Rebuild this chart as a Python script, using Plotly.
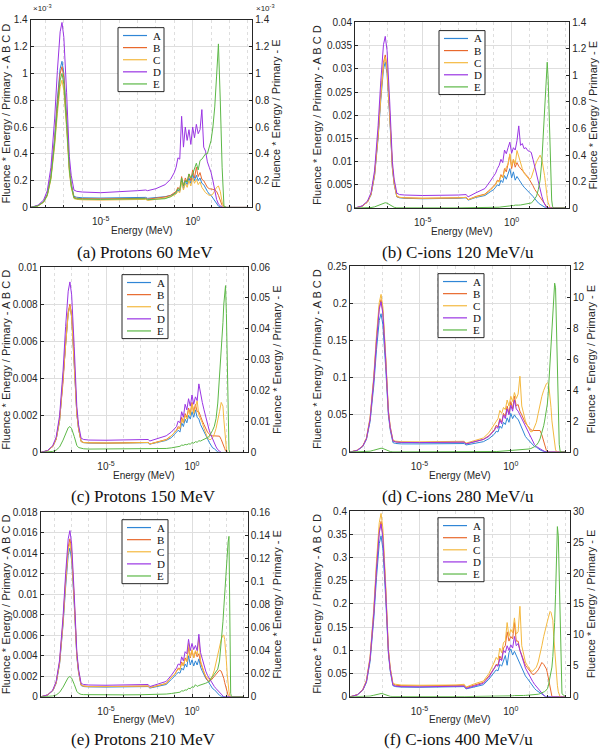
import plotly.graph_objects as go

# ---------------- data ----------------
# energy grid, log10(E / MeV)
LOG_E = [
    -8.8, -8.4, -8.1, -7.9, -7.7, -7.5, -7.35, -7.2, -7.1, -7.0, -6.85, -6.7, -6.6, -6.45, -6.3,
    -6.0, -5.0, -4.0, -3.0, -2.55, -2.45, -2.0, -1.5,
    -1.2, -1.0, -0.9, -0.8, -0.7, -0.6, -0.5, -0.4, -0.3, -0.2, -0.1, 0.0, 0.1, 0.2, 0.3, 0.4, 0.5, 0.6, 0.7, 0.8, 0.9,
    1.0, 1.1, 1.2, 1.3, 1.4, 1.5, 1.6, 1.7, 1.8, 1.85, 1.9, 1.95, 2.0, 2.05, 2.1, 2.15, 2.2, 2.25, 2.3, 2.35,
    2.4, 2.45, 2.5, 2.55, 2.6, 2.65, 2.7, 2.8, 3.0,
]
ENERGY_MEV = [10 ** p for p in LOG_E]

SERIES = ["A", "B", "C", "D", "E"]
COLORS = ["#2F86D6", "#E8692D", "#F4B940", "#9A35E3", "#5CB847"]

# (a) Protons 60 MeV  -- values in units of 1e-3
a_A = [0, 0.013, 0.044, 0.098, 0.24, 0.52, 0.81, 1.035, 1.09, 1.0, 0.68, 0.30, 0.18, 0.083, 0.076,
       0.072, 0.07, 0.07, 0.072, 0.075, 0.068, 0.072, 0.08,
       0.09, 0.10, 0.11, 0.13, 0.12, 0.20, 0.14, 0.20, 0.17, 0.22, 0.18, 0.25, 0.20, 0.24, 0.20, 0.22, 0.18, 0.17, 0.14, 0.12, 0.10,
       0.09, 0.07, 0.05, 0.025, 0.01, 0.003, 0, 0, 0, 0, 0, 0, 0, 0, 0, 0, 0, 0, 0, 0, 0, 0, 0, 0, 0, 0, 0, 0, 0]
a_B = [0, 0.013, 0.042, 0.095, 0.23, 0.50, 0.78, 1.0, 1.05, 0.97, 0.65, 0.29, 0.17, 0.076, 0.069,
       0.066, 0.064, 0.064, 0.066, 0.068, 0.062, 0.068, 0.078,
       0.09, 0.11, 0.12, 0.15, 0.13, 0.23, 0.16, 0.22, 0.19, 0.25, 0.20, 0.28, 0.22, 0.30, 0.23, 0.26, 0.21, 0.20, 0.17, 0.15, 0.14,
       0.14, 0.135, 0.13, 0.12, 0.09, 0.05, 0.015, 0, 0, 0, 0, 0, 0, 0, 0, 0, 0, 0, 0, 0, 0, 0, 0, 0, 0, 0, 0, 0, 0]
a_C = [0, 0.011, 0.038, 0.086, 0.21, 0.46, 0.70, 0.90, 0.95, 0.87, 0.59, 0.26, 0.15, 0.066, 0.06,
       0.057, 0.055, 0.055, 0.058, 0.06, 0.052, 0.06, 0.07,
       0.08, 0.09, 0.10, 0.12, 0.11, 0.19, 0.13, 0.18, 0.15, 0.20, 0.16, 0.22, 0.18, 0.21, 0.17, 0.19, 0.15, 0.13, 0.11, 0.10, 0.09,
       0.09, 0.10, 0.125, 0.15, 0.16, 0.12, 0.04, 0.005, 0, 0, 0, 0, 0, 0, 0, 0, 0, 0, 0, 0, 0, 0, 0, 0, 0, 0, 0, 0, 0]
a_D = [0, 0.017, 0.055, 0.124, 0.30, 0.66, 1.02, 1.31, 1.38, 1.27, 0.86, 0.38, 0.24, 0.13, 0.12,
       0.115, 0.11, 0.115, 0.125, 0.13, 0.125, 0.14, 0.17,
       0.21, 0.26, 0.30, 0.37, 0.36, 0.68, 0.45, 0.60, 0.50, 0.58, 0.47, 0.60, 0.52, 0.62, 0.55, 0.58, 0.73, 0.45, 0.42, 0.34, 0.30,
       0.26, 0.20, 0.12, 0.06, 0.025, 0.01, 0, 0, 0, 0, 0, 0, 0, 0, 0, 0, 0, 0, 0, 0, 0, 0, 0, 0, 0, 0, 0, 0, 0]
a_E = [0, 0.012, 0.04, 0.09, 0.22, 0.48, 0.74, 0.95, 1.0, 0.92, 0.62, 0.28, 0.16, 0.071, 0.065,
       0.062, 0.06, 0.06, 0.062, 0.065, 0.058, 0.062, 0.065,
       0.08, 0.10, 0.11, 0.14, 0.13, 0.22, 0.16, 0.20, 0.19, 0.25, 0.22, 0.25, 0.30, 0.33, 0.28, 0.35, 0.36, 0.38, 0.40, 0.40, 0.45,
       0.50, 0.60, 0.75, 0.98, 1.22, 0.80, 0.30, 0.01, 0, 0, 0, 0, 0, 0, 0, 0, 0, 0, 0, 0, 0, 0, 0, 0, 0, 0, 0, 0, 0]

# (b) C-ions 120 MeV/u
b_A = [0, 0.0004, 0.0013, 0.0028, 0.0069, 0.0151, 0.0233, 0.0299, 0.0315, 0.029, 0.0195, 0.0085, 0.0051, 0.0024, 0.0022,
       0.0021, 0.002, 0.002, 0.0021, 0.0022, 0.0017, 0.0023, 0.0027,
       0.0035, 0.004, 0.0045, 0.005, 0.0048, 0.006, 0.0055, 0.007, 0.0062, 0.0075, 0.0085, 0.0065, 0.0078, 0.006, 0.0068, 0.0062, 0.0055, 0.005, 0.0045, 0.004, 0.0037,
       0.0033, 0.003, 0.0025, 0.002, 0.0015, 0.0011, 0.0008, 0.0005, 0.0003, 0.0002, 0.0001, 0, 0, 0, 0, 0, 0, 0, 0, 0, 0, 0, 0, 0, 0, 0, 0, 0, 0]
b_B = [0, 0.0004, 0.0013, 0.003, 0.0073, 0.0158, 0.0244, 0.0314, 0.033, 0.0304, 0.0205, 0.0089, 0.0054, 0.0025, 0.0023,
       0.0022, 0.0021, 0.0021, 0.0022, 0.0023, 0.0018, 0.0025, 0.003,
       0.004, 0.0047, 0.0052, 0.006, 0.0058, 0.0072, 0.0066, 0.0085, 0.0078, 0.0095, 0.0115, 0.0085, 0.0105, 0.0088, 0.0098, 0.009, 0.0085, 0.008, 0.0075, 0.0072, 0.0068,
       0.0062, 0.0055, 0.0048, 0.004, 0.0034, 0.0029, 0.0025, 0.0018, 0.0011, 0.0008, 0.0005, 0.0003, 0.0001, 0, 0, 0, 0, 0, 0, 0, 0, 0, 0, 0, 0, 0, 0, 0, 0]
b_C = [0, 0.0004, 0.0013, 0.0029, 0.0072, 0.0156, 0.024, 0.0309, 0.0325, 0.0299, 0.0202, 0.0088, 0.0053, 0.0025, 0.0023,
       0.0022, 0.0021, 0.0021, 0.0022, 0.0023, 0.0018, 0.0024, 0.0029,
       0.0038, 0.0047, 0.005, 0.0058, 0.0056, 0.007, 0.0065, 0.008, 0.0089, 0.0095, 0.0117, 0.009, 0.0105, 0.0095, 0.0124, 0.011, 0.0096, 0.0085, 0.0075, 0.0071, 0.0065,
       0.0061, 0.0065, 0.0075, 0.0089, 0.01, 0.0109, 0.0114, 0.0105, 0.0085, 0.007, 0.0055, 0.0035, 0.0022, 0.0012, 0.0006, 0.0002, 0, 0, 0, 0, 0, 0, 0, 0, 0, 0, 0, 0, 0]
b_D = [0, 0.00045, 0.0015, 0.0033, 0.0081, 0.0178, 0.0274, 0.0352, 0.037, 0.034, 0.0229, 0.01, 0.0062, 0.0032, 0.0029,
       0.0028, 0.0027, 0.0027, 0.0028, 0.0029, 0.0024, 0.0033, 0.0042,
       0.0058, 0.0068, 0.0075, 0.0085, 0.0092, 0.0105, 0.0098, 0.0125, 0.0117, 0.013, 0.0142, 0.0118, 0.013, 0.0125, 0.0145, 0.0177, 0.0135, 0.0139, 0.0128, 0.013, 0.0124,
       0.0122, 0.012, 0.0105, 0.0089, 0.007, 0.0054, 0.0038, 0.0025, 0.0013, 0.0008, 0.0004, 0.0002, 0.0001, 0, 0, 0, 0, 0, 0, 0, 0, 0, 0, 0, 0, 0, 0, 0, 0]
b_E = [0, 0.0005, 0.0016, 0.0036, 0.0088, 0.0192, 0.0296, 0.038, 0.04, 0.0368, 0.0248, 0.0104, 0.0055, 0.0015, 0.0011,
       0.001, 0.001, 0.001, 0.001, 0.001, 0.001, 0.0012, 0.0015,
       0.002, 0.003, 0.004, 0.005, 0.006, 0.008, 0.009, 0.011, 0.012, 0.014, 0.016, 0.02, 0.018, 0.022, 0.02, 0.022, 0.023, 0.025, 0.026, 0.027, 0.03,
       0.033, 0.038, 0.05, 0.068, 0.09, 0.14, 0.21, 0.36, 0.6, 0.75, 0.88, 1.0, 1.1, 0.98, 0.7, 0.43, 0.2, 0.06, 0.01, 0, 0, 0, 0, 0, 0, 0, 0, 0, 0]

# (c) Protons 150 MeV
c_A = [0, 0.0001, 0.00032, 0.00071, 0.0017, 0.0038, 0.0058, 0.0075, 0.0079, 0.0073, 0.0049, 0.0021, 0.0013, 0.00059, 0.00053,
       0.00051, 0.0005, 0.0005, 0.00051, 0.00053, 0.00045, 0.00055, 0.00065,
       0.0008, 0.001, 0.0011, 0.0012, 0.0011, 0.0016, 0.0014, 0.0018, 0.0016, 0.002, 0.0018, 0.0022, 0.0019, 0.0023, 0.0019, 0.0018, 0.0015, 0.0013, 0.0011, 0.0009, 0.0007,
       0.00055, 0.0004, 0.00025, 0.0002, 0.0001, 0.00003, 0, 0, 0, 0, 0, 0, 0, 0, 0, 0, 0, 0, 0, 0, 0, 0, 0, 0, 0, 0, 0, 0, 0]
c_B = [0, 0.0001, 0.00032, 0.00072, 0.0018, 0.0038, 0.0059, 0.0076, 0.008, 0.0074, 0.005, 0.0021, 0.0013, 0.0006, 0.00054,
       0.00052, 0.00051, 0.00051, 0.00052, 0.00054, 0.00046, 0.00057, 0.0007,
       0.0009, 0.0011, 0.0012, 0.0014, 0.0013, 0.0019, 0.0016, 0.0021, 0.0019, 0.0024, 0.0021, 0.0027, 0.0022, 0.0026, 0.0022, 0.0022, 0.0019, 0.0017, 0.0015, 0.0013, 0.0011,
       0.001, 0.0009, 0.0009, 0.0009, 0.0009, 0.0009, 0.00088, 0.0007, 0.0005, 0.00035, 0.00022, 0.0001, 0.00003, 0, 0, 0, 0, 0, 0, 0, 0, 0, 0, 0, 0, 0, 0, 0, 0]
c_C = [0, 0.0001, 0.00032, 0.00071, 0.0017, 0.0038, 0.0058, 0.0075, 0.0079, 0.0073, 0.0049, 0.0021, 0.0013, 0.00059, 0.00053,
       0.00052, 0.00051, 0.00051, 0.00052, 0.00054, 0.00046, 0.00056, 0.00068,
       0.0009, 0.0011, 0.0012, 0.0013, 0.0013, 0.0018, 0.0016, 0.002, 0.0018, 0.0023, 0.002, 0.0026, 0.0021, 0.0025, 0.0028, 0.002, 0.0018, 0.0016, 0.0013, 0.001, 0.0008,
       0.0007, 0.0007, 0.0008, 0.001, 0.0013, 0.0017, 0.0022, 0.0027, 0.0025, 0.0018, 0.0011, 0.0006, 0.0002, 0, 0, 0, 0, 0, 0, 0, 0, 0, 0, 0, 0, 0, 0, 0, 0]
c_D = [0, 0.00011, 0.00037, 0.00083, 0.002, 0.0044, 0.0068, 0.0087, 0.0092, 0.0085, 0.0057, 0.0025, 0.0015, 0.00077, 0.0007,
       0.00067, 0.00066, 0.00066, 0.00068, 0.0007, 0.00062, 0.00075, 0.0009,
       0.0011, 0.0013, 0.0014, 0.0017, 0.0016, 0.0022, 0.0019, 0.0026, 0.0023, 0.0029, 0.0025, 0.0031, 0.0026, 0.003, 0.0028, 0.0037, 0.0031, 0.0027, 0.0023, 0.0019, 0.0015,
       0.0012, 0.00095, 0.0007, 0.0005, 0.0003, 0.00015, 0.00005, 0, 0, 0, 0, 0, 0, 0, 0, 0, 0, 0, 0, 0, 0, 0, 0, 0, 0, 0, 0, 0, 0]
c_E = [0, 0.0001, 0.00034, 0.00076, 0.0018, 0.004, 0.0062, 0.008, 0.0084, 0.0077, 0.0052, 0.0023, 0.0016, 0.0013, 0.0012,
       0.0011, 0.0011, 0.0011, 0.0011, 0.0012, 0.0011, 0.0012, 0.0013,
       0.0015, 0.0017, 0.0018, 0.0021, 0.002, 0.0024, 0.0023, 0.0026, 0.0025, 0.0028, 0.0027, 0.0032, 0.003, 0.0035, 0.0033, 0.0038, 0.0037, 0.004, 0.0042, 0.0045, 0.0048,
       0.0052, 0.006, 0.0072, 0.0085, 0.011, 0.016, 0.024, 0.031, 0.042, 0.048, 0.053, 0.054, 0.045, 0.028, 0.01, 0.001, 0, 0, 0, 0, 0, 0, 0, 0, 0, 0, 0, 0, 0]

# (d) C-ions 280 MeV/u
d_A = [0, 0.0022, 0.0074, 0.017, 0.041, 0.089, 0.138, 0.177, 0.186, 0.171, 0.115, 0.05, 0.03, 0.0127, 0.0116,
       0.011, 0.011, 0.011, 0.0112, 0.0115, 0.0095, 0.012, 0.014,
       0.018, 0.022, 0.024, 0.028, 0.027, 0.035, 0.032, 0.04, 0.037, 0.046, 0.04, 0.052, 0.045, 0.05, 0.046, 0.044, 0.038, 0.032, 0.026, 0.021, 0.018,
       0.015, 0.012, 0.0095, 0.0075, 0.0066, 0.0045, 0.003, 0.0018, 0.001, 0.0005, 0.0002, 0, 0, 0, 0, 0, 0, 0, 0, 0, 0, 0, 0, 0, 0, 0, 0, 0, 0]
d_B = [0, 0.0025, 0.0082, 0.018, 0.045, 0.098, 0.152, 0.195, 0.205, 0.189, 0.127, 0.055, 0.033, 0.015, 0.0137,
       0.013, 0.0128, 0.0128, 0.013, 0.0135, 0.011, 0.014, 0.017,
       0.022, 0.027, 0.03, 0.036, 0.034, 0.045, 0.04, 0.052, 0.048, 0.062, 0.052, 0.068, 0.058, 0.075, 0.062, 0.064, 0.055, 0.05, 0.044, 0.039, 0.036,
       0.033, 0.03, 0.029, 0.029, 0.029, 0.03, 0.029, 0.023, 0.014, 0.009, 0.005, 0.002, 0.0005, 0, 0, 0, 0, 0, 0, 0, 0, 0, 0, 0, 0, 0, 0, 0, 0]
d_C = [0, 0.0025, 0.0085, 0.019, 0.047, 0.102, 0.157, 0.201, 0.212, 0.195, 0.131, 0.057, 0.035, 0.016, 0.0147,
       0.014, 0.0138, 0.0138, 0.014, 0.0145, 0.012, 0.0155, 0.019,
       0.026, 0.034, 0.037, 0.042, 0.045, 0.056, 0.052, 0.06, 0.057, 0.07, 0.062, 0.075, 0.068, 0.08, 0.072, 0.078, 0.102, 0.062, 0.05, 0.042, 0.036,
       0.031, 0.027, 0.028, 0.034, 0.04, 0.052, 0.064, 0.075, 0.083, 0.087, 0.09, 0.092, 0.093, 0.092, 0.085, 0.075, 0.06, 0.042, 0.03, 0.018,
       0.008, 0.003, 0.001, 0, 0, 0, 0, 0, 0]
d_D = [0, 0.0024, 0.0081, 0.018, 0.044, 0.097, 0.149, 0.192, 0.202, 0.186, 0.125, 0.054, 0.033, 0.015, 0.0137,
       0.013, 0.0128, 0.0128, 0.013, 0.0134, 0.011, 0.014, 0.017,
       0.021, 0.026, 0.029, 0.034, 0.032, 0.043, 0.038, 0.05, 0.045, 0.058, 0.05, 0.063, 0.055, 0.07, 0.058, 0.055, 0.05, 0.044, 0.038, 0.033, 0.029,
       0.024, 0.018, 0.014, 0.01, 0.0075, 0.006, 0.0044, 0.0025, 0.001, 0.0004, 0, 0, 0, 0, 0, 0, 0, 0, 0, 0, 0, 0, 0, 0, 0, 0, 0, 0, 0]
d_E = [0, 0.003, 0.01, 0.0225, 0.055, 0.12, 0.185, 0.2375, 0.25, 0.23, 0.155, 0.067, 0.035, 0.012, 0.011,
       0.01, 0.01, 0.01, 0.01, 0.01, 0.01, 0.012, 0.015,
       0.02, 0.025, 0.03, 0.035, 0.04, 0.05, 0.055, 0.065, 0.07, 0.08, 0.085, 0.1, 0.1, 0.11, 0.1, 0.11, 0.12, 0.13, 0.14, 0.16, 0.18,
       0.2, 0.23, 0.28, 0.35, 0.45, 0.6, 0.85, 1.2, 1.7, 2.0, 2.3, 2.6, 3.1, 3.8, 4.8, 5.9, 7.0, 8.2, 9.3, 10.2,
       10.9, 10.6, 8.0, 5.0, 1.8, 0.5, 0.05, 0, 0]

# (e) Protons 210 MeV
e_A = [0, 0.00017, 0.00058, 0.0013, 0.0032, 0.007, 0.0107, 0.0138, 0.0145, 0.0133, 0.009, 0.0039, 0.0024, 0.0011, 0.001,
       0.00097, 0.00095, 0.00095, 0.00097, 0.001, 0.00085, 0.00105, 0.0012,
       0.0017, 0.002, 0.0022, 0.0024, 0.0023, 0.0028, 0.0026, 0.0032, 0.0029, 0.004, 0.0031, 0.0036, 0.003, 0.0035, 0.0031, 0.0037, 0.0029, 0.0025, 0.0021, 0.0018, 0.0016,
       0.0013, 0.001, 0.0008, 0.0007, 0.0005, 0.0003, 0.00015, 0.00005, 0, 0, 0, 0, 0, 0, 0, 0, 0, 0, 0, 0, 0, 0, 0, 0, 0, 0, 0, 0, 0]
e_B = [0, 0.00018, 0.00062, 0.0014, 0.0034, 0.0074, 0.0114, 0.0146, 0.0154, 0.0142, 0.0095, 0.0041, 0.0025, 0.00115, 0.00105,
       0.001, 0.001, 0.001, 0.00102, 0.00105, 0.0009, 0.0011, 0.0013,
       0.0019, 0.0022, 0.0025, 0.0028, 0.0027, 0.0034, 0.003, 0.0038, 0.0035, 0.0048, 0.0038, 0.0045, 0.0038, 0.0044, 0.0039, 0.0042, 0.0033, 0.0028, 0.0023, 0.0019, 0.0016,
       0.0015, 0.0016, 0.0018, 0.002, 0.0023, 0.0025, 0.0026, 0.0025, 0.0021, 0.0018, 0.0014, 0.001, 0.0007, 0.0004, 0.00015, 0, 0, 0, 0, 0, 0, 0, 0, 0, 0, 0, 0, 0, 0]
e_C = [0, 0.00018, 0.0006, 0.00135, 0.0033, 0.0072, 0.0111, 0.0143, 0.015, 0.0138, 0.0093, 0.004, 0.0025, 0.00115, 0.00105,
       0.001, 0.001, 0.001, 0.00102, 0.00105, 0.0009, 0.0011, 0.0013,
       0.0019, 0.0022, 0.0025, 0.0027, 0.0026, 0.0033, 0.003, 0.0037, 0.0034, 0.0052, 0.0039, 0.0046, 0.0038, 0.0045, 0.0041, 0.0058, 0.0035, 0.0029, 0.0024, 0.002, 0.0018,
       0.0017, 0.0018, 0.0021, 0.0026, 0.0033, 0.0042, 0.005, 0.0056, 0.006, 0.006, 0.0056, 0.0048, 0.0035, 0.0022, 0.0012, 0.0005, 0.0001, 0, 0, 0, 0, 0, 0, 0, 0, 0, 0, 0, 0]
e_D = [0, 0.00019, 0.00065, 0.0015, 0.0036, 0.0078, 0.012, 0.0154, 0.0162, 0.0149, 0.01, 0.0044, 0.0027, 0.0013, 0.0012,
       0.00115, 0.00113, 0.00113, 0.00116, 0.0012, 0.001, 0.00125, 0.0015,
       0.0021, 0.0025, 0.0028, 0.0032, 0.0031, 0.0039, 0.0035, 0.0044, 0.0042, 0.0056, 0.0045, 0.0052, 0.0046, 0.005, 0.0045, 0.0061, 0.0043, 0.0037, 0.003, 0.0025, 0.0021,
       0.0018, 0.0015, 0.0012, 0.001, 0.0008, 0.0006, 0.0004, 0.0002, 0.00005, 0, 0, 0, 0, 0, 0, 0, 0, 0, 0, 0, 0, 0, 0, 0, 0, 0, 0, 0, 0]
e_E = [0, 0.0002, 0.0007, 0.0016, 0.0039, 0.0084, 0.013, 0.0167, 0.0176, 0.0162, 0.0109, 0.0048, 0.0031, 0.0021, 0.0019,
       0.0018, 0.0017, 0.0017, 0.0018, 0.0019, 0.0017, 0.002, 0.0024,
       0.0029, 0.0033, 0.0037, 0.0042, 0.004, 0.0052, 0.005, 0.006, 0.0058, 0.0075, 0.007, 0.0088, 0.0082, 0.0105, 0.009, 0.0098, 0.0102, 0.0108, 0.0112, 0.0118, 0.0125,
       0.0135, 0.0155, 0.0175, 0.0195, 0.021, 0.024, 0.031, 0.045, 0.065, 0.077, 0.09, 0.1, 0.112, 0.124, 0.134, 0.139, 0.06, 0.003, 0, 0, 0, 0, 0, 0, 0, 0, 0, 0, 0]

# (f) C-ions 400 MeV/u
f_A = [0, 0.0042, 0.014, 0.031, 0.076, 0.167, 0.257, 0.33, 0.347, 0.319, 0.215, 0.094, 0.056, 0.024, 0.022,
       0.021, 0.0205, 0.0205, 0.021, 0.022, 0.017, 0.022, 0.026,
       0.038, 0.047, 0.052, 0.058, 0.056, 0.07, 0.066, 0.08, 0.089, 0.068, 0.095, 0.103, 0.09, 0.098, 0.089, 0.082, 0.07, 0.061, 0.052, 0.045, 0.04,
       0.034, 0.029, 0.023, 0.018, 0.014, 0.011, 0.008, 0.005, 0.003, 0.002, 0.001, 0.0004, 0, 0, 0, 0, 0, 0, 0, 0, 0, 0, 0, 0, 0, 0, 0, 0, 0]
f_B = [0, 0.0045, 0.015, 0.034, 0.083, 0.181, 0.28, 0.359, 0.378, 0.348, 0.234, 0.1, 0.061, 0.028, 0.025,
       0.024, 0.0235, 0.0235, 0.024, 0.025, 0.02, 0.026, 0.031,
       0.045, 0.056, 0.062, 0.07, 0.068, 0.088, 0.08, 0.105, 0.11, 0.14, 0.12, 0.13, 0.125, 0.16, 0.12, 0.12, 0.1, 0.09, 0.078, 0.068, 0.063,
       0.058, 0.052, 0.048, 0.049, 0.053, 0.058, 0.066, 0.074, 0.07, 0.067, 0.064, 0.06, 0.052, 0.042, 0.03, 0.018, 0.008, 0.001, 0, 0, 0, 0, 0, 0, 0, 0, 0, 0, 0]
f_C = [0, 0.0047, 0.016, 0.036, 0.087, 0.19, 0.292, 0.375, 0.395, 0.363, 0.245, 0.106, 0.064, 0.029, 0.027,
       0.0255, 0.025, 0.025, 0.0255, 0.027, 0.021, 0.028, 0.034,
       0.05, 0.065, 0.075, 0.085, 0.08, 0.105, 0.095, 0.117, 0.12, 0.16, 0.13, 0.145, 0.138, 0.17, 0.135, 0.14, 0.195, 0.11, 0.09, 0.075, 0.068,
       0.062, 0.056, 0.055, 0.06, 0.064, 0.075, 0.09, 0.11, 0.13, 0.14, 0.148, 0.155, 0.162, 0.17, 0.178, 0.184, 0.182, 0.175, 0.165, 0.13,
       0.1, 0.075, 0.045, 0.025, 0.011, 0.003, 0, 0, 0]
f_D = [0, 0.0045, 0.015, 0.033, 0.082, 0.179, 0.275, 0.353, 0.372, 0.342, 0.231, 0.099, 0.059, 0.025, 0.023,
       0.022, 0.0215, 0.0215, 0.022, 0.023, 0.018, 0.024, 0.029,
       0.042, 0.055, 0.06, 0.068, 0.066, 0.082, 0.078, 0.1, 0.095, 0.11, 0.1, 0.112, 0.105, 0.13, 0.11, 0.115, 0.1, 0.085, 0.075, 0.062, 0.054,
       0.047, 0.04, 0.033, 0.027, 0.022, 0.016, 0.011, 0.006, 0.002, 0.001, 0, 0, 0, 0, 0, 0, 0, 0, 0, 0, 0, 0, 0, 0, 0, 0, 0, 0, 0]
f_E = [0, 0.0064, 0.021, 0.048, 0.117, 0.254, 0.392, 0.5, 0.53, 0.488, 0.33, 0.14, 0.075, 0.046, 0.042,
       0.04, 0.04, 0.04, 0.04, 0.04, 0.04, 0.045, 0.05,
       0.06, 0.07, 0.075, 0.08, 0.085, 0.1, 0.1, 0.12, 0.12, 0.14, 0.14, 0.18, 0.16, 0.2, 0.18, 0.2, 0.2, 0.21, 0.22, 0.23, 0.24,
       0.25, 0.27, 0.3, 0.33, 0.37, 0.42, 0.5, 0.6, 0.75, 0.85, 0.95, 1.1, 1.3, 1.7, 2.4, 3.2, 4.0, 4.8, 6.5, 9.0,
       12.0, 16.5, 22.0, 27.5, 26.0, 19.0, 10.0, 0.5, 0]

# axis ticks
a_left_ticks = [0, 0.2, 0.4, 0.6, 0.8, 1.0, 1.2, 1.4]          # x 1e-3
a_right_ticks = [0, 0.2, 0.4, 0.6, 0.8, 1.0, 1.2, 1.4]         # x 1e-3
b_left_ticks = [0, 0.005, 0.01, 0.015, 0.02, 0.025, 0.03, 0.035, 0.04]
b_right_ticks = [0, 0.2, 0.4, 0.6, 0.8, 1.0, 1.2, 1.4]
c_left_ticks = [0, 0.002, 0.004, 0.006, 0.008, 0.01]
c_right_ticks = [0, 0.01, 0.02, 0.03, 0.04, 0.05, 0.06]
d_left_ticks = [0, 0.05, 0.1, 0.15, 0.2, 0.25]
d_right_ticks = [0, 2, 4, 6, 8, 10, 12]
e_left_ticks = [0, 0.002, 0.004, 0.006, 0.008, 0.01, 0.012, 0.014, 0.016, 0.018]
e_right_ticks = [0, 0.02, 0.04, 0.06, 0.08, 0.1, 0.12, 0.14, 0.16]
f_left_ticks = [0, 0.05, 0.1, 0.15, 0.2, 0.25, 0.3, 0.35, 0.4]
f_right_ticks = [0, 5, 10, 15, 20, 25, 30]

X_MAJOR_TICKS = [1e-5, 1]
X_MAJOR_LABELS = ["10<sup>-5</sup>", "10<sup>0</sup>"]
X_MINOR_TICKS = [1e-8, 1e-7, 1e-6, 1e-4, 1e-3, 1e-2, 1e-1, 10, 100, 1000]
X_TITLE = "Energy (MeV)"

CAPTIONS = ["(a) Protons 60 MeV", "(b) C-ions 120 MeV/u", "(c) Protons 150 MeV",
            "(d) C-ions 280 MeV/u", "(e) Protons 210 MeV", "(f) C-ions 400 MeV/u"]

PANELS = [
    dict(series=[a_A, a_B, a_C, a_D, a_E], scale=1e-3, lt=a_left_ticks, rt=a_right_ticks),
    dict(series=[b_A, b_B, b_C, b_D, b_E], scale=1, lt=b_left_ticks, rt=b_right_ticks),
    dict(series=[c_A, c_B, c_C, c_D, c_E], scale=1, lt=c_left_ticks, rt=c_right_ticks),
    dict(series=[d_A, d_B, d_C, d_D, d_E], scale=1, lt=d_left_ticks, rt=d_right_ticks),
    dict(series=[e_A, e_B, e_C, e_D, e_E], scale=1, lt=e_left_ticks, rt=e_right_ticks),
    dict(series=[f_A, f_B, f_C, f_D, f_E], scale=1, lt=f_left_ticks, rt=f_right_ticks),
]

# ---------------- layout geometry (pixels) ----------------
W, H = 600, 754
BOXES = [(30.7, 252.3, 14.0, 204.7), (355, 569.3, 16.7, 205.3),
         (40.7, 247.7, 265.3, 453.7), (350, 570, 264.3, 453.3),
         (40.7, 247.7, 514.3, 702), (350, 570, 513.3, 702)]
LEGEND_TL = [(118, 22), (439, 25), (122, 273), (438, 272), (122, 522), (438, 520)]
CAPTION_XY = [(145, 250), (458, 250), (143.5, 498), (458, 498), (143.5, 745), (458, 745)]

SANS = "Liberation Sans, Arial, Helvetica, sans-serif"
SERIF = "Liberation Serif, Times New Roman, serif"
INK = "#262626"
GRID = "#dedede"


def px(x):
    return x / W


def py(y):
    return 1 - y / H


for p in PANELS:
    for s in p["series"]:
        assert len(s) == len(LOG_E), len(s)

fig = go.Figure()
layout = {}
shapes = []
annotations = []

for k, (panel, box) in enumerate(zip(PANELS, BOXES), start=1):
    l, r, t, b = box
    xname = "x" if k == 1 else f"x{k}"
    il, ir = 2 * k - 1, 2 * k
    yl = "y" if il == 1 else f"y{il}"
    yr = f"y{ir}"
    sc = panel["scale"]

    for name, color, vals in zip(SERIES, COLORS, panel["series"]):
        fig.add_trace(go.Scatter(
            x=ENERGY_MEV, y=[v * sc for v in vals], mode="lines", name=name,
            line=dict(color=color, width=1), xaxis=xname,
            yaxis=yr if name == "E" else yl, showlegend=False))

    lt, rt = panel["lt"], panel["rt"]
    layout["xaxis" if k == 1 else f"xaxis{k}"] = dict(
        type="log", range=[-8.8, 3.24], domain=[px(l), px(r)], anchor=yl,
        tickmode="array", tickvals=X_MAJOR_TICKS, ticktext=X_MAJOR_LABELS,
        ticks="inside", ticklen=3, tickcolor=INK, showline=True, linecolor=INK,
        linewidth=1, mirror=True, showgrid=True, gridcolor=GRID, zeroline=False,
        ticklabelstandoff=5,
        tickfont=dict(family=SANS, size=10, color=INK),
        minor=dict(tickmode="array", tickvals=X_MINOR_TICKS, ticks="inside", ticklen=2,
                   tickcolor=INK, showgrid=True, gridcolor=GRID, griddash="dot"),
    )
    # x-axis title placed just under the tick labels
    annotations.append(dict(text=X_TITLE, xref="paper", yref="paper",
                            x=px((l + r) / 2), y=py(b + 23.5), xanchor="center", yanchor="middle",
                            showarrow=False, font=dict(family=SANS, size=10, color=INK)))
    layout["yaxis" if il == 1 else f"yaxis{il}"] = dict(
        domain=[py(b), py(t)], anchor=xname, range=[0, lt[-1] * sc],
        tickmode="array", tickvals=[v * sc for v in lt], ticktext=[f"{v:g}" for v in lt],
        ticks="inside", ticklen=3, tickcolor=INK, showline=True, linecolor=INK, linewidth=1,
        showgrid=True, gridcolor=GRID, zeroline=False,
        tickfont=dict(family=SANS, size=10, color=INK),
        title=dict(text="Fluence * Energy / Primary - A B C D",
                   font=dict(family=SANS, size=11, color=INK), standoff=3),
    )
    layout[f"yaxis{ir}"] = dict(
        overlaying=yl, anchor=xname, side="right", range=[0, rt[-1] * sc],
        tickmode="array", tickvals=[v * sc for v in rt], ticktext=[f"{v:g}" for v in rt],
        ticks="inside", ticklen=3, tickcolor=INK, showline=True, linecolor=INK, linewidth=1,
        showgrid=False, zeroline=False,
        tickfont=dict(family=SANS, size=10, color=INK),
        title=dict(text="Fluence * Energy / Primary - E",
                   font=dict(family=SANS, size=11, color=INK), standoff=3),
    )

    # legend box (drawn manually to match the compact MATLAB legend)
    lx, ly = LEGEND_TL[k - 1]
    lw, lh = 46, 65
    shapes.append(dict(type="rect", xref="paper", yref="paper",
                       x0=px(lx), x1=px(lx + lw), y0=py(ly + lh), y1=py(ly),
                       line=dict(color=INK, width=1), fillcolor="white", layer="above"))
    for j, (name, color) in enumerate(zip(SERIES, COLORS)):
        yy = ly + 8 + j * 12.3
        shapes.append(dict(type="line", xref="paper", yref="paper",
                           x0=px(lx + 5), x1=px(lx + 29), y0=py(yy), y1=py(yy),
                           line=dict(color=color, width=1.2), layer="above"))
        annotations.append(dict(text=name, xref="paper", yref="paper", x=px(lx + 33), y=py(yy),
                                xanchor="left", yanchor="middle", showarrow=False,
                                font=dict(family=SERIF, size=11, color="#111")))

    cx, cy = CAPTION_XY[k - 1]
    annotations.append(dict(text=CAPTIONS[k - 1], xref="paper", yref="paper", x=px(cx), y=py(cy),
                            xanchor="center", yanchor="middle", showarrow=False,
                            font=dict(family=SERIF, size=17, color="#111")))

# exponent labels of panel (a)
for xx in (BOXES[0][0], BOXES[0][1] + 2):
    annotations.append(dict(text="\u00d710<sup>-3</sup>", xref="paper", yref="paper",
                            x=px(xx), y=py(9.5), xanchor="left", yanchor="bottom",
                            showarrow=False, font=dict(family=SANS, size=8, color=INK)))

fig.update_layout(
    width=W, height=H, margin=dict(l=0, r=0, t=0, b=0),
    paper_bgcolor="white", plot_bgcolor="white", showlegend=False,
    shapes=shapes, annotations=annotations, **layout)

fig.write_html("out.html")
